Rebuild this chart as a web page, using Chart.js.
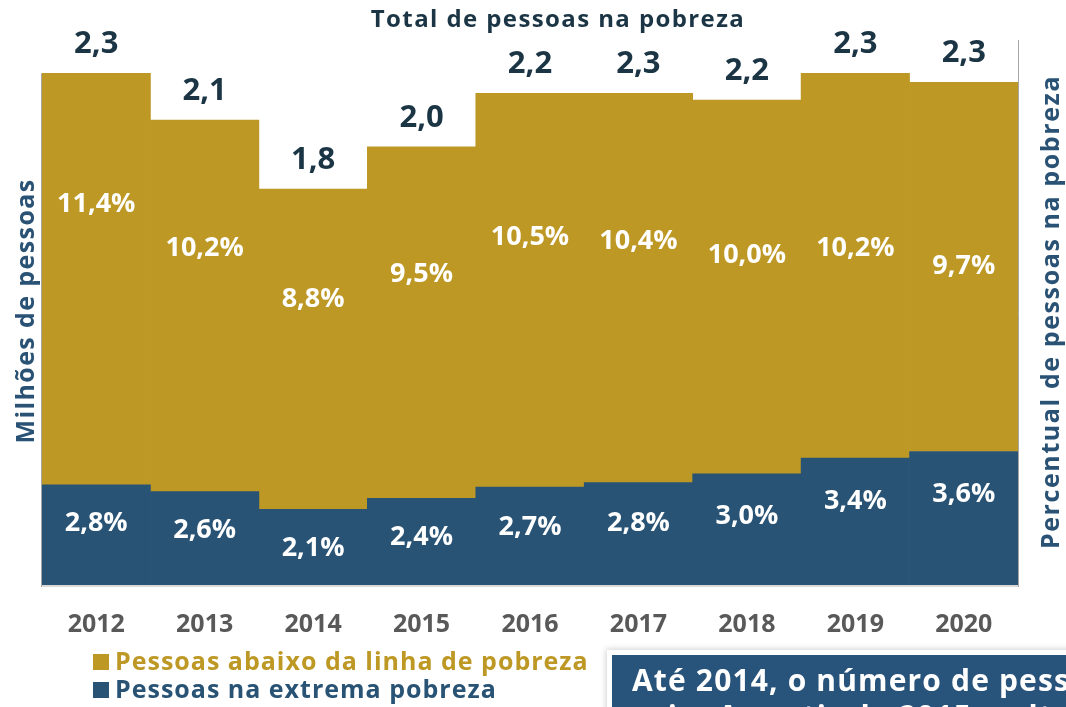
<!DOCTYPE html>
<html>
<head>
<meta charset="utf-8">
<script src="https://cdn.jsdelivr.net/npm/chart.js@4.4.1/dist/chart.umd.min.js"></script>
<style>
  html, body { margin: 0; padding: 0; width: 1066px; height: 707px; overflow: hidden; background: #ffffff; }
  #wrap { position: relative; width: 1066px; height: 707px; }
  canvas { position: absolute; left: 0; top: 0; }
  #note {
    position: absolute; left: 612px; top: 655px; width: 560px; height: 90px;
    background: #28537a; color: #ffffff;
    font-family: "Open Sans", sans-serif; font-weight: 700; font-size: 30px; line-height: 36px;
    letter-spacing: 1.15px;
    padding: 7px 0 0 20px; box-sizing: border-box;
    box-shadow: 0 0 0 5px #ffffff, 0 0 6px 6px rgba(0,0,0,0.18);
    white-space: nowrap;
  }
</style>
</head>
<body>
<div id="wrap">
  <canvas id="c" width="1066" height="707"></canvas>
  <div id="note">Até 2014, o número de pessoas na pobreza<br>caiu. A partir de 2015, voltou a crescer</div>
</div>
<script>
// ---- data ----
const years = ["2012", "2013", "2014", "2015", "2016", "2017", "2018", "2019", "2020"];
// millions of people
const extremePoverty = [0.45, 0.42, 0.34, 0.39, 0.44, 0.46, 0.50, 0.57, 0.60];
const povertyAboveExtreme = [1.85, 1.67, 1.44, 1.58, 1.77, 1.75, 1.68, 1.73, 1.66];
// labels of totals (millions)
const totalLabels = ["2,3", "2,1", "1,8", "2,0", "2,2", "2,3", "2,2", "2,3", "2,3"];
// percent of population
const pctPoverty = [11.4, 10.2, 8.8, 9.5, 10.5, 10.4, 10.0, 10.2, 9.7];
const pctExtreme = [2.8, 2.6, 2.1, 2.4, 2.7, 2.8, 3.0, 3.4, 3.6];
const seriesNames = ["Pessoas abaixo da linha de pobreza", "Pessoas na extrema pobreza"];
const chartTitle = "Total de pessoas na pobreza";
const leftTitle = "Milhões de pessoas";
const rightTitle = "Percentual de pessoas na pobreza";

const GOLD = "#bd9824";
const BLUE = "#285374";
const DARK = "#1b3545";
const FONT = "'Open Sans', sans-serif";

function fmtPct(v) { return v.toFixed(1).replace(".", ",") + "%"; }

const overlay = {
  id: "overlay",
  afterDatasetsDraw(chart) {
    const ctx = chart.ctx;
    const ca = chart.chartArea;
    const x = chart.scales.x;
    const y = chart.scales.y;
    const yp = chart.scales.yPct;
    ctx.save();
    // axis lines
    ctx.strokeStyle = "#d9d9d9"; ctx.lineWidth = 2;
    ctx.beginPath(); ctx.moveTo(ca.left, ca.bottom + 1); ctx.lineTo(ca.right, ca.bottom + 1); ctx.stroke();
    ctx.strokeStyle = "#a6a6a6"; ctx.lineWidth = 1;
    ctx.beginPath(); ctx.moveTo(ca.right + 0.5, ca.top); ctx.lineTo(ca.right + 0.5, ca.bottom + 2); ctx.stroke();
    const firstTop = chart.getDatasetMeta(1).data[0].y;
    ctx.beginPath(); ctx.moveTo(ca.left - 0.5, firstTop); ctx.lineTo(ca.left - 0.5, ca.bottom + 2); ctx.stroke();

    ctx.textAlign = "center"; ctx.textBaseline = "middle";
    // totals above bars
    ctx.fillStyle = DARK;
    ctx.font = "700 31px " + FONT;
    years.forEach((yr, i) => {
      const total = extremePoverty[i] + povertyAboveExtreme[i];
      ctx.fillText(totalLabels[i], x.getPixelForValue(i), y.getPixelForValue(total) - 29);
    });
    // percent labels
    ctx.fillStyle = "#ffffff";
    ctx.font = "700 27px " + FONT;
    years.forEach((yr, i) => {
      ctx.fillText(fmtPct(pctPoverty[i]), x.getPixelForValue(i), yp.getPixelForValue(pctPoverty[i]) + 34);
      ctx.fillText(fmtPct(pctExtreme[i]), x.getPixelForValue(i), yp.getPixelForValue(pctExtreme[i]) + 40);
    });
    // title
    ctx.fillStyle = DARK;
    ctx.font = "700 24px " + FONT;
    ctx.letterSpacing = "1.4px";
    ctx.fillText(chartTitle, 558, 20);
    // axis titles
    ctx.fillStyle = "#2a5275";
    ctx.font = "700 25px " + FONT;
    ctx.letterSpacing = "1.4px";
    ctx.save(); ctx.translate(27, 311); ctx.rotate(-Math.PI / 2); ctx.fillText(leftTitle, 0, 0); ctx.restore();
    ctx.letterSpacing = "1.6px";
    ctx.save(); ctx.translate(1052, 312); ctx.rotate(-Math.PI / 2); ctx.fillText(rightTitle, 0, 0); ctx.restore();
    // legend
    ctx.textAlign = "left";
    ctx.font = "700 25px " + FONT;
    ctx.letterSpacing = "1px";
    const items = [[seriesNames[0], GOLD, 662], [seriesNames[1], BLUE, 690]];
    items.forEach(([t, c, cy]) => {
      ctx.fillStyle = c;
      ctx.fillRect(93, cy - 8, 16, 16);
      ctx.fillText(t, 115, cy + 1);
    });
    ctx.restore();
  }
};

new Chart(document.getElementById("c"), {
  type: "bar",
  data: {
    labels: years,
    datasets: [
      { label: seriesNames[1], data: extremePoverty, backgroundColor: BLUE, stack: "s" },
      { label: seriesNames[0], data: povertyAboveExtreme, backgroundColor: GOLD, stack: "s" },
      { type: "line", label: "pctPoverty", data: pctPoverty, yAxisID: "yPct", showLine: false, pointRadius: 0 },
      { type: "line", label: "pctExtreme", data: pctExtreme, yAxisID: "yPct", showLine: false, pointRadius: 0 }
    ]
  },
  options: {
    responsive: false,
    animation: false,
    devicePixelRatio: 1,
    layout: { padding: { top: 40, left: 42, right: 48, bottom: 42 } },
    datasets: { bar: { barPercentage: 1, categoryPercentage: 1, borderWidth: 0 } },
    plugins: { legend: { display: false }, title: { display: false }, tooltip: { enabled: false } },
    scales: {
      x: {
        stacked: true,
        grid: { display: false, drawTicks: false },
        border: { display: false },
        ticks: { color: "#595959", font: { family: FONT, size: 25, weight: "700" }, padding: 25 }
      },
      y: { stacked: true, display: false, min: 0, max: 2.45 },
      yPct: { display: false, min: 0, max: 15 }
    }
  },
  plugins: [overlay]
});
</script>
</body>
</html>
